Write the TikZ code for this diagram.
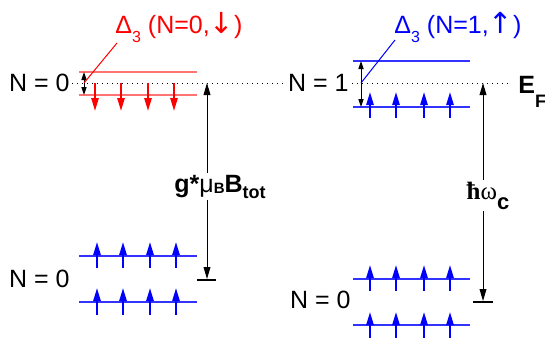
\documentclass[tikz,border=0pt]{standalone}
\usepackage{fontspec}
\setmainfont{Liberation Sans}
\newfontfamily\seriffont{Liberation Serif}
\newfontfamily\arrowfont{DejaVu Sans}
\usetikzlibrary{arrows.meta, positioning}

% lowered subscript: [drop]{size}{text}
\newcommand\dsub[3][2pt]{\raisebox{-#1}{\fontsize{#2}{#2}\selectfont #3}}

\tikzset{
  lbl/.style={font=\fontsize{12.5}{15}\selectfont, inner sep=0.5pt},
  redlevel/.style={draw=red!55, line width=0.7pt},
  bluelevel/.style={draw=blue!80, line width=0.7pt},
  spinred/.style={red, line width=1pt, -{Triangle[length=6.5pt, width=3.6pt]}},
  spinblue/.style={blue, line width=1pt, -{Triangle[length=6.5pt, width=3.6pt]}},
  gaparr/.style={black, line width=0.5pt, {Triangle[length=4pt, width=2.6pt]}-{Triangle[length=4pt, width=2.6pt]}},
  bigarr/.style={black, line width=0.5pt, {Triangle[length=6pt, width=3.4pt]}-{Triangle[length=6pt, width=3.4pt]}},
  bar/.style={black, line width=0.9pt}
}

\begin{document}
\begin{tikzpicture}[x=0.5pt, y=-0.5pt]
    \useasboundingbox (0,0) rectangle (545,337);

    % Fermi level
    \coordinate (fL) at (72,83);
    \coordinate (fR) at (510,83);
    \draw[dotted, line width=0.5pt] (fL) -- (fR);

    % left column: N = 0 spin-split levels
    \draw[redlevel] (79,72) -- (197,72);
    \draw[redlevel] (79,95) -- (197,95);
    \foreach \x in {95,121,148,174} \draw[spinred] (\x,83) -- (\x,111);
    \coordinate (gapAtop) at (84,72);
    \coordinate (gapAbot) at (84,95);
    \draw[gaparr] (gapAtop) -- (gapAbot);

    \draw[bluelevel] (79,256) -- (197,256);
    \draw[bluelevel] (79,302) -- (197,302);
    \foreach \x in {97,123,150,176} {
        \draw[spinblue] (\x,268) -- (\x,242);
        \draw[spinblue] (\x,315) -- (\x,288);
    }

    \node[lbl, anchor=east] (lvlA) at (71,83) {N = 0};
    \node[lbl, anchor=east] (lvlB) at (71,279) {N = 0};

    % Zeeman label with leader
    \node[lbl, anchor=base west, text=red] (deltaA) at (114,33)
        {Δ\dsub[4.5pt]{8}{3} (N=0,{\arrowfont\fontsize{14.5}{15}\selectfont ↓})};
    \coordinate (deltaAfoot) at (117,43);
    \coordinate (deltaAtip) at (84,83);
    \draw[red, line width=0.5pt] (deltaAtip) -- (deltaAfoot);

    % Zeeman energy arrow
    \coordinate (zTop) at (207,83);
    \coordinate (zBot) at (207,279);
    \draw[bigarr] (zTop) -- (zBot);
    \draw[bar] (197,280) -- (216,280);
    \node[lbl, anchor=base, fill=white, inner sep=1pt] (zeeman) at (220,192)
        {\textbf{g*}μ\dsub[0.8pt]{7.5}{\textbf{B}}\textbf{B}\dsub[3pt]{9}{\textbf{tot}}};

    % right column: N = 1 and N = 0 levels
    \draw[bluelevel] (353,61) -- (470,61);
    \draw[bluelevel] (353,107) -- (470,107);
    \foreach \x in {370,396,424,450} \draw[spinblue] (\x,118) -- (\x,92);
    \coordinate (gapBtop) at (361,61);
    \coordinate (gapBbot) at (361,107);
    \draw[gaparr] (gapBtop) -- (gapBbot);

    \draw[bluelevel] (353,279) -- (470,279);
    \draw[bluelevel] (353,325) -- (470,325);
    \foreach \x in {370,396,424,450} {
        \draw[spinblue] (\x,291) -- (\x,265);
        \draw[spinblue] (\x,338) -- (\x,312);
    }

    \node[lbl, anchor=east, fill=white] (lvlC) at (350,83) {N = 1};
    \node[lbl, anchor=east] (lvlD) at (352,300) {N = 0};
    \node[lbl, anchor=base west] (fermi) at (517,93) {\textbf{E}\dsub[7pt]{9}{\textbf{F}}};

    \node[lbl, anchor=base west, text=blue] (deltaB) at (393,33)
        {Δ\dsub[4.5pt]{8}{3} (N=1,{\arrowfont\fontsize{14.5}{15}\selectfont ↑})};
    \coordinate (deltaBfoot) at (395,40);
    \coordinate (deltaBtip) at (361,83);
    \draw[blue, line width=0.5pt] (deltaBtip) -- (deltaBfoot);

    % cyclotron energy arrow
    \coordinate (cTop) at (483,83);
    \coordinate (cBot) at (483,301);
    \draw[bigarr] (cTop) -- (cBot);
    \draw[bar] (473,302) -- (493,302);
    \node[lbl, anchor=base, fill=white, inner sep=1pt] (cyclo) at (488,199)
        {{\seriffont\textbf{ħ}ω}\dsub[5pt]{11}{\textbf{c}}};
\end{tikzpicture}
\end{document}
